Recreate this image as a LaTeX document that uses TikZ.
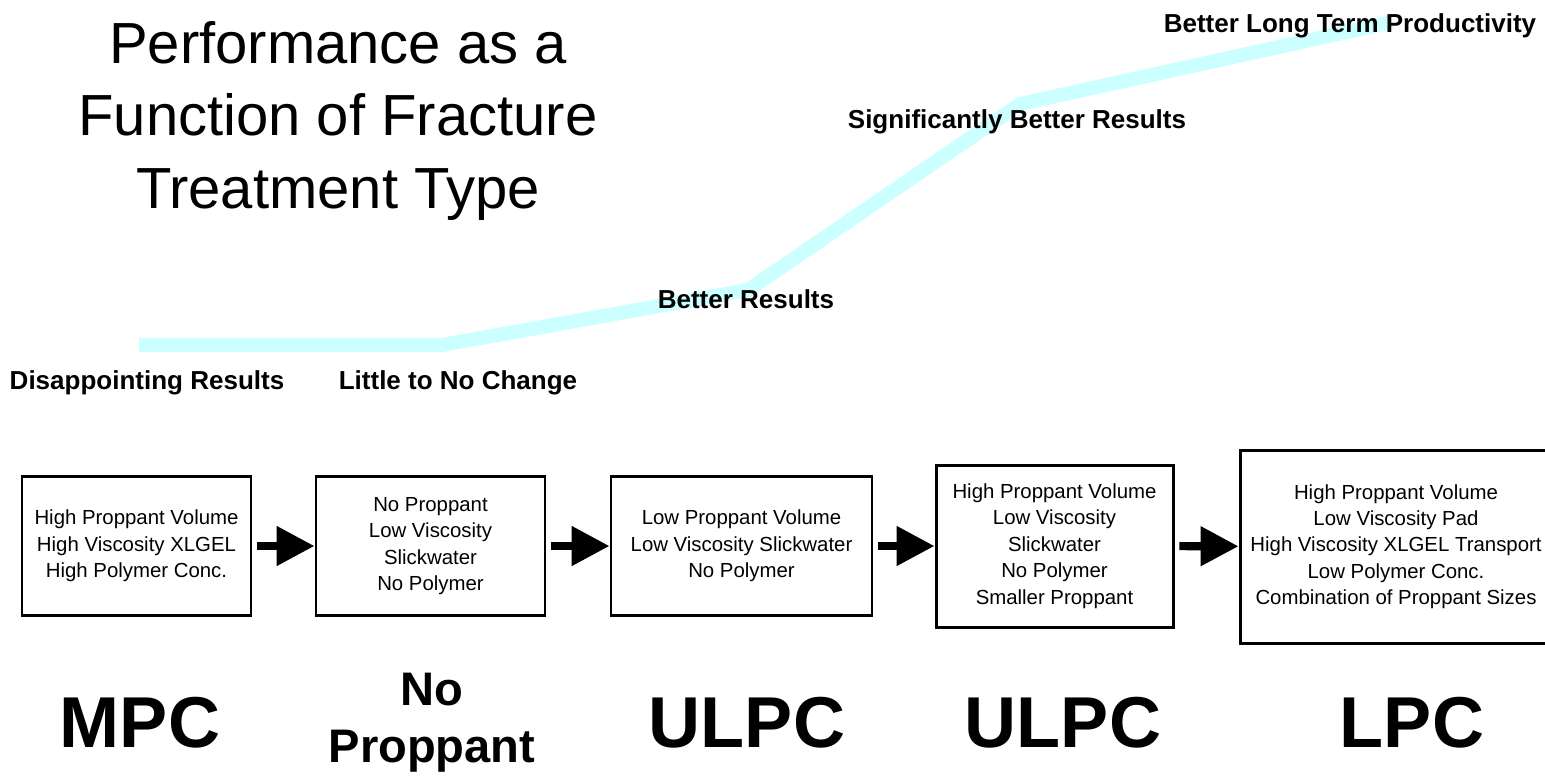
\documentclass[tikz,border=0pt]{standalone}
\usepackage{fontspec}
\setmainfont{Liberation Sans}
\usetikzlibrary{arrows.meta,positioning}
\definecolor{trendcyan}{HTML}{CCFFFF}

\begin{document}
\begin{tikzpicture}[
  x=0.1mm,y=-0.1mm,
  box/.style={rectangle,draw,line width=0.85pt,inner sep=0pt,
              font=\fontsize{5.8}{7.5}\selectfont,align=center},
  arr/.style={-{Triangle[length=10.8pt,width=10.8pt]},line width=2.3pt,
              shorten <=1.4pt},
  lbl/.style={font=\fontsize{7.4}{9}\selectfont\bfseries,anchor=base},
  big/.style={font=\fontsize{20.5}{24}\selectfont\bfseries,anchor=base}
]
\useasboundingbox (0,0) rectangle (1545,775);

% Title
\node[font=\fontsize{16.5}{20.5}\selectfont,align=center] (title) at (338,121)
     {Performance as a\\Function of Fracture\\Treatment Type};

% Trend line (drawn first, labels sit on top)
\coordinate (t0) at (139,345);
\coordinate (t1) at (442,345);
\coordinate (t2) at (748,290);
\coordinate (t3) at (1020,104);
\coordinate (t4) at (1392,22);
\draw[trendcyan,line width=4pt] (t0) -- (t1) -- (t2) -- (t3) -- (t4);

\node[lbl] (dr) at (147,389)  {Disappointing Results};
\node[lbl] (lc) at (458,389)  {Little to No Change};
\node[lbl] (br) at (746,308)  {Better Results};
\node[lbl] (sb) at (1017,128) {Significantly Better Results};
\node[lbl] (lt) at (1350,32)  {Better Long Term Productivity};

% Row of treatment boxes (left to right)
\node[box,minimum width=22.9mm,minimum height=13.9mm] (mp) at (136.5,546)
     {High Proppant Volume\\High Viscosity XLGEL\\High Polymer Conc.};
\node[box,minimum width=22.9mm,minimum height=13.9mm] (np) at (430.5,546)
     {No Proppant\\Low Viscosity\\Slickwater\\No Polymer};
\node[box,minimum width=26.1mm,minimum height=13.9mm] (ul) at (741.5,546)
     {Low Proppant Volume\\Low Viscosity Slickwater\\No Polymer};
\node[box,minimum width=23.7mm,minimum height=16.2mm] (us) at (1054.5,546)
     {High Proppant Volume\\Low Viscosity\\Slickwater\\No Polymer\\Smaller Proppant};
\node[box,minimum width=31.2mm,minimum height=19.3mm] (lp) at (1396,546.5)
     {High Proppant Volume\\Low Viscosity Pad\\High Viscosity XLGEL Transport\\Low Polymer Conc.\\Combination of Proppant Sizes};

\draw[arr] (mp) -- (np);
\draw[arr] (np) -- (ul);
\draw[arr] (ul) -- (us);
\draw[arr] (us) -- (lp);

% Treatment type names
\node[big] (mpl) at (140,747)  {MPC};
\node[font=\fontsize{13.4}{16.2}\selectfont\bfseries,align=center]
     (npl) at (432,723) {No\\Proppant};
\node[big] (ull) at (747,747)  {ULPC};
\node[big] (usl) at (1063,747) {ULPC};
\node[big] (lpl) at (1412,747) {LPC};

\end{tikzpicture}
\end{document}
